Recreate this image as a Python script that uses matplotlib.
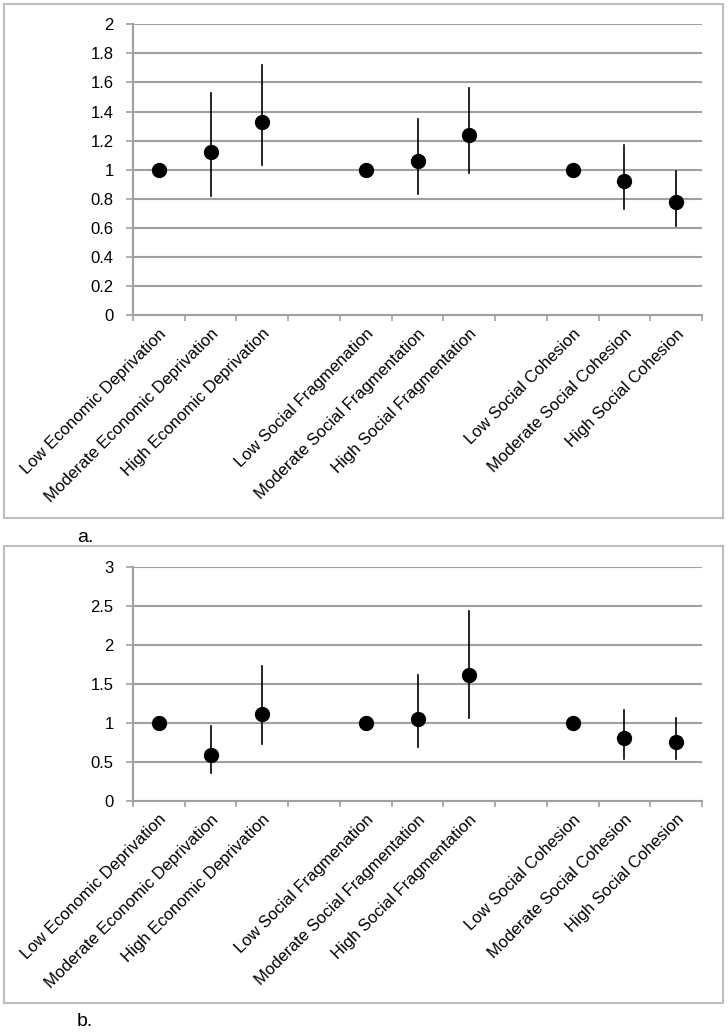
import matplotlib
matplotlib.use('Agg')
import matplotlib.pyplot as plt
from matplotlib.patches import Rectangle
import numpy as np

plt.rcParams['font.family'] = ['Liberation Sans', 'DejaVu Sans']

categories = ['Low Economic Deprivation', 'Moderate Economic Deprivation', 'High Economic Deprivation', '',
              'Low Social Fragmenation', 'Moderate Social Fragmentation', 'High Social Fragmentation', '',
              'Low Social Cohesion', 'Moderate Social Cohesion', 'High Social Cohesion']

# panel a
est_a = [1.0, 1.12, 1.33, None, 1.0, 1.06, 1.24, None, 1.0, 0.92, 0.78]
lo_a = [1.0, 0.82, 1.03, None, 1.0, 0.83, 0.98, None, 1.0, 0.73, 0.61]
hi_a = [1.0, 1.53, 1.72, None, 1.0, 1.35, 1.56, None, 1.0, 1.17, 0.99]
yticks_a = [0, 0.2, 0.4, 0.6, 0.8, 1, 1.2, 1.4, 1.6, 1.8, 2]

# panel b
est_b = [1.0, 0.59, 1.12, None, 1.0, 1.05, 1.61, None, 1.0, 0.80, 0.76]
lo_b = [1.0, 0.36, 0.73, None, 1.0, 0.69, 1.06, None, 1.0, 0.54, 0.54]
hi_b = [1.0, 0.96, 1.73, None, 1.0, 1.61, 2.44, None, 1.0, 1.16, 1.06]
yticks_b = [0, 0.5, 1, 1.5, 2, 2.5, 3]

grey = '#a0a0a0'


def panel(ax, est, lo, hi, yticks):
    x = np.arange(len(categories))
    for i in x:
        if est[i] is None:
            continue
        ax.plot([i, i], [lo[i], hi[i]], color='black', lw=1.2, zorder=3)
        ax.plot(i, est[i], 'o', color='black', ms=10, zorder=4)
    ax.set_xlim(-0.5, len(categories) - 0.5)
    ax.set_ylim(yticks[0], yticks[-1])
    ax.set_yticks(yticks)
    ax.set_yticklabels([('%g' % t) for t in yticks], fontsize=12)
    for t in yticks[1:]:
        ax.axhline(t, color=grey, lw=1.5, zorder=1)
    # category labels
    ax.set_xticks(x)
    ax.set_xticklabels(categories, rotation=45, ha='right', rotation_mode='anchor', fontsize=12)
    ax.tick_params(axis='x', length=0, pad=8)
    # tick marks between categories
    ax.set_xticks(np.arange(-0.5, len(categories)), minor=True)
    ax.tick_params(axis='x', which='minor', length=4, color=grey, width=1.2, direction='out')
    ax.tick_params(axis='y', length=5, color=grey, width=1.2, pad=9)
    for s in ['top', 'right']:
        ax.spines[s].set_visible(False)
    for s in ['left', 'bottom']:
        ax.spines[s].set_color(grey)
        ax.spines[s].set_linewidth(1.5)


fig = plt.figure(figsize=(7.28, 10.35), dpi=100)

ax1 = fig.add_axes([0.1827, 0.6957, 0.7816, 0.2808])
panel(ax1, est_a, lo_a, hi_a, yticks_a)
ax2 = fig.add_axes([0.1827, 0.2264, 0.7816, 0.2255])
panel(ax2, est_b, lo_b, hi_b, yticks_b)

# frames around the panels
W, H = 728.0, 1035.0
for (x0, y0, x1, y1) in [(4, 4, 723, 518), (4, 546, 723, 1003)]:
    fig.patches.append(Rectangle((x0 / W, 1 - y1 / H), (x1 - x0) / W, (y1 - y0) / H,
                                 transform=fig.transFigure, fill=False,
                                 edgecolor='#bdbdbd', lw=1.5))

fig.text(85 / W, 1 - 537 / H, 'a.', fontsize=14, ha='center', va='center')
fig.text(85 / W, 1 - 1022 / H, 'b.', fontsize=14, ha='center', va='center')

fig.savefig('out.png', dpi=100)
